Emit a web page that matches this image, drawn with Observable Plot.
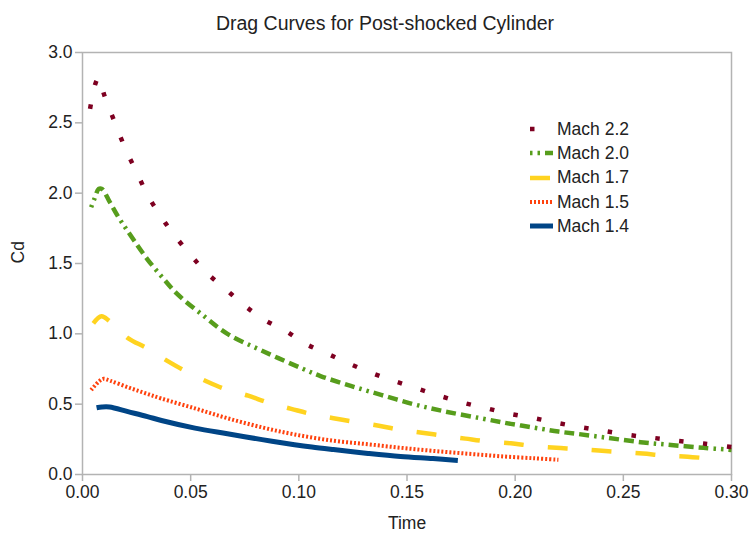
<!DOCTYPE html>
<html>
<head>
<meta charset="utf-8">
<script src="https://cdn.jsdelivr.net/npm/d3@7"></script>
<script src="https://cdn.jsdelivr.net/npm/@observablehq/plot@0.6"></script>
<style>
  body { margin: 0; background: #fff; }
  #chart { position: relative; width: 751px; height: 535px; font-family: "Liberation Sans", Arial, sans-serif; }
  #legend { position: absolute; left: 530px; top: 117px; font-size: 17.5px; color: #222; }
  #legend .row { display: flex; align-items: center; height: 24.3px; }
  #legend svg { margin-right: 4px; }
</style>
</head>
<body>
<div id="chart"><div id="legend"></div></div>
<script>
// Drag coefficient histories behind a shock, one series per Mach number
const seriesNames = ["Mach 2.2", "Mach 2.0", "Mach 1.7", "Mach 1.5", "Mach 1.4"];
const seriesColors = ["#7e0021", "#579d1c", "#ffd320", "#ff420e", "#004586"];
const seriesDashes = ["4.5,19.5", "2.5,5,2.5,5,10,5,10,5,10,5", "20,24", "2,2", "none"];
const seriesWidths = [4.5, 4.5, 4.5, 4, 5];

const mach22Time = [0.0035, 0.006, 0.0075, 0.010, 0.015, 0.020, 0.025, 0.030, 0.036, 0.042, 0.050, 0.057, 0.066, 0.075, 0.084, 0.094, 0.103, 0.113, 0.123, 0.134, 0.144, 0.155, 0.166, 0.176, 0.187, 0.198, 0.209, 0.220, 0.231, 0.241, 0.253, 0.264, 0.275, 0.287, 0.300];
const mach22Cd   = [2.60, 2.78, 2.82, 2.70, 2.50, 2.31, 2.15, 1.99, 1.84, 1.71, 1.56, 1.44, 1.32, 1.20, 1.10, 1.02, 0.93, 0.86, 0.79, 0.72, 0.665, 0.61, 0.555, 0.51, 0.47, 0.43, 0.40, 0.365, 0.335, 0.31, 0.28, 0.26, 0.24, 0.22, 0.195];

const mach20Time = [0.004, 0.0055, 0.0075, 0.009, 0.0125, 0.0166, 0.020, 0.024, 0.030, 0.037, 0.044, 0.055, 0.067, 0.083, 0.102, 0.110, 0.124, 0.138, 0.153, 0.167, 0.184, 0.198, 0.212, 0.220, 0.228, 0.243, 0.258, 0.272, 0.287, 0.300];
const mach20Cd   = [1.90, 1.96, 2.03, 2.03, 1.94, 1.83, 1.75, 1.66, 1.53, 1.40, 1.28, 1.14, 1.00, 0.88, 0.75, 0.70, 0.63, 0.566, 0.50, 0.45, 0.40, 0.36, 0.325, 0.305, 0.29, 0.26, 0.23, 0.21, 0.19, 0.175];

const mach17Time = [0.005, 0.0088, 0.0125, 0.021, 0.0295, 0.039, 0.047, 0.057, 0.0655, 0.0766, 0.086, 0.0965, 0.1057, 0.116, 0.1255, 0.137, 0.146, 0.157, 0.1666, 0.177, 0.186, 0.198, 0.207, 0.219, 0.228, 0.2386, 0.248, 0.259, 0.2686, 0.2797, 0.290];
const mach17Cd   = [1.075, 1.125, 1.09, 0.97, 0.90, 0.81, 0.74, 0.665, 0.61, 0.56, 0.51, 0.467, 0.43, 0.40, 0.375, 0.347, 0.32, 0.297, 0.276, 0.255, 0.237, 0.222, 0.205, 0.19, 0.182, 0.17, 0.16, 0.149, 0.136, 0.127, 0.113];

const mach15Time = [0.004, 0.0075, 0.0097, 0.013, 0.021, 0.0286, 0.0365, 0.052, 0.067, 0.083, 0.098, 0.116, 0.132, 0.147, 0.162, 0.178, 0.193, 0.209, 0.220];
const mach15Cd   = [0.60, 0.66, 0.68, 0.665, 0.62, 0.58, 0.54, 0.47, 0.40, 0.335, 0.285, 0.24, 0.215, 0.19, 0.168, 0.148, 0.13, 0.115, 0.105];

const mach14Time = [0.0065, 0.009, 0.0125, 0.021, 0.030, 0.0365, 0.052, 0.067, 0.083, 0.098, 0.106, 0.116, 0.132, 0.147, 0.162, 0.1735];
const mach14Cd   = [0.474, 0.48, 0.48, 0.447, 0.412, 0.384, 0.33, 0.29, 0.248, 0.212, 0.195, 0.177, 0.15, 0.128, 0.113, 0.10];

const xTicks = [0, 0.05, 0.10, 0.15, 0.20, 0.25, 0.30];
const yTicks = [0, 0.5, 1.0, 1.5, 2.0, 2.5, 3.0];

const seriesTime = [mach22Time, mach20Time, mach17Time, mach15Time, mach14Time];
const seriesCd = [mach22Cd, mach20Cd, mach17Cd, mach15Cd, mach14Cd];

const series = seriesNames.map((name, i) => ({
  name,
  color: seriesColors[i],
  dash: seriesDashes[i],
  width: seriesWidths[i],
  rows: seriesTime[i].map((t, j) => ({time: t, cd: seriesCd[i][j]}))
}));

const font = "Liberation Sans, Arial, sans-serif";
const gray = "#b3b3b3";

// Draw the slowest case first so the faster curves sit on top
const lineMarks = series.slice().reverse().map(s =>
  Plot.line(s.rows, {
    x: "time", y: "cd", curve: "catmull-rom",
    stroke: s.color, strokeWidth: s.width,
    strokeDasharray: s.dash, strokeLinecap: "butt", strokeLinejoin: "round"
  })
);

const chart = Plot.plot({
  width: 751,
  height: 535,
  marginTop: 52,
  marginRight: 20,
  marginBottom: 61,
  marginLeft: 82,
  style: {fontFamily: font, fontSize: "17px", background: "#fff", color: "#222"},
  x: {domain: [0, 0.3]},
  y: {domain: [0, 3]},
  marks: [
    Plot.frame({stroke: gray, strokeWidth: 1.5}),
    Plot.axisX({ticks: xTicks, tickFormat: d3.format(".2f"), tickSize: 7, tickPadding: 4, stroke: gray, strokeWidth: 1.5, fill: "#222", label: null, fontSize: 17.5}),
    Plot.axisY({ticks: yTicks, tickFormat: d3.format(".1f"), tickSize: 7, tickPadding: 3, stroke: gray, strokeWidth: 1.5, fill: "#222", label: null, fontSize: 17.5}),
    ...lineMarks,
    Plot.text(["Drag Curves for Post-shocked Cylinder"], {frameAnchor: "top", dx: -22, dy: -36, fontSize: 19.5, fill: "#222"}),
    Plot.text(["Time"], {frameAnchor: "bottom", dy: 54, fontSize: 17.5, fill: "#222"}),
    Plot.text(["Cd"], {frameAnchor: "left", dx: -64, rotate: -90, fontSize: 17.5, fill: "#222"})
  ]
});

const container = document.getElementById("chart");
container.insertBefore(chart, container.firstChild);

// Legend with line swatches using the same stroke styles as the curves
const legend = d3.select("#legend");
series.forEach(s => {
  const row = legend.append("div").attr("class", "row");
  const sw = row.append("svg").attr("width", 23).attr("height", 10);
  sw.append("line")
    .attr("x1", 0).attr("x2", 23).attr("y1", 5).attr("y2", 5)
    .attr("stroke", s.color).attr("stroke-width", s.width)
    .attr("stroke-dasharray", s.dash);
  row.append("span").text(s.name);
});
</script>
</body>
</html>
